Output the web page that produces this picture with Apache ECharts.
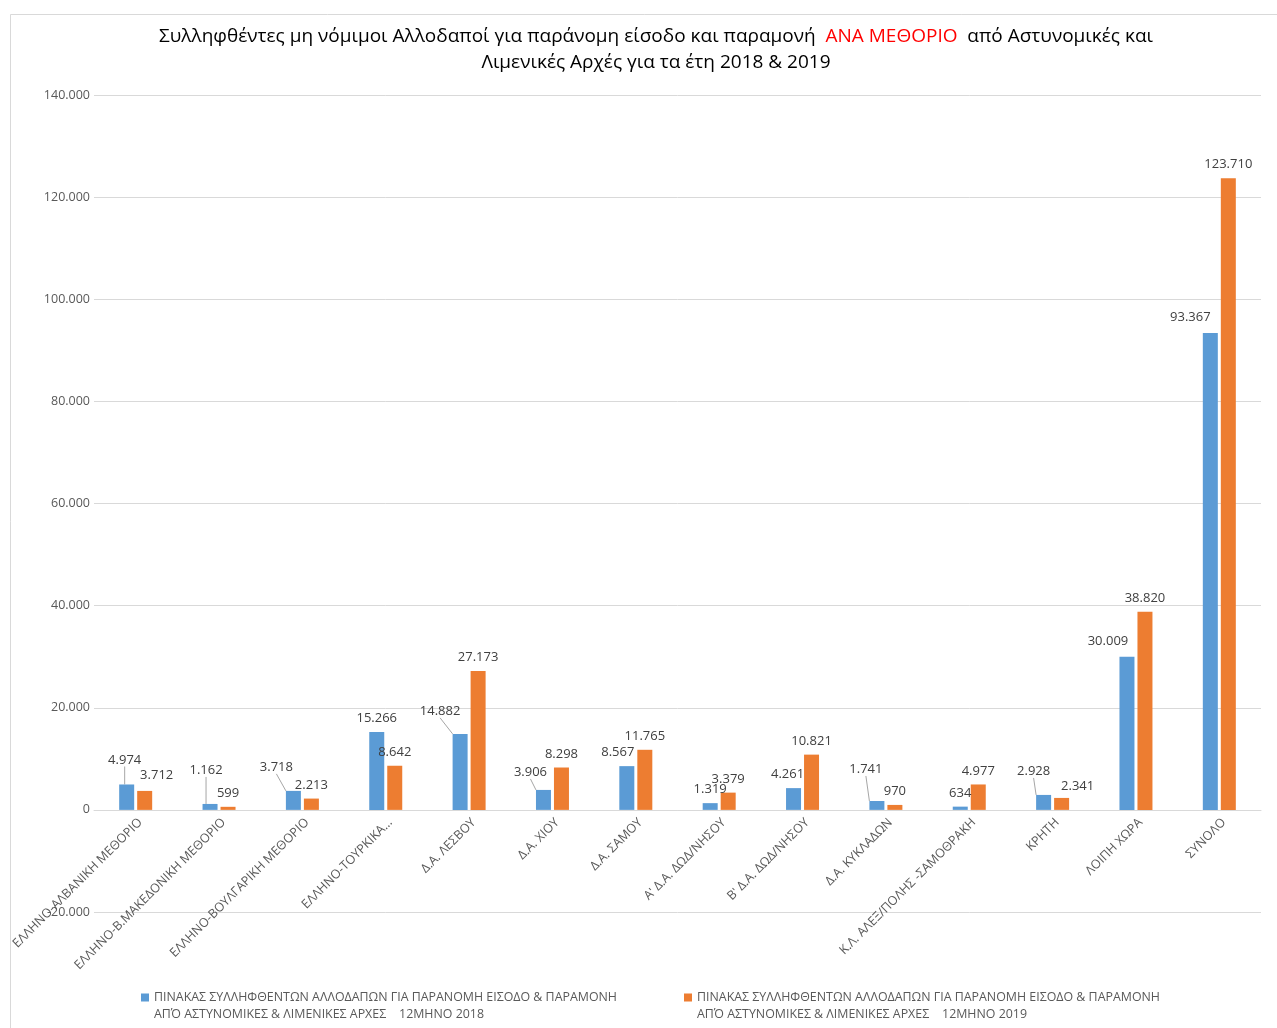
<!DOCTYPE html>
<html>
<head>
<meta charset="utf-8">
<script src="https://cdn.jsdelivr.net/npm/echarts@6/dist/echarts.min.js"></script>
<style>
  html, body { margin: 0; padding: 0; background: #fff; }
  #chart { width: 1277px; height: 1028px; }
</style>
</head>
<body>
<div id="chart"></div>
<script>
// κατηγορίες (μεθόριοι / αρχές)
var categories = [
  "ΕΛΛΗΝΟ-ΑΛΒΑΝΙΚΗ ΜΕΘΟΡΙΟ",
  "ΕΛΛΗΝΟ-Β.ΜΑΚΕΔΟΝΙΚΗ ΜΕΘΟΡΙΟ",
  "ΕΛΛΗΝΟ-ΒΟΥΛΓΑΡΙΚΗ ΜΕΘΟΡΙΟ",
  "ΕΛΛΗΝΟ-ΤΟΥΡΚΙΚΑ...",
  "Δ.Α. ΛΕΣΒΟΥ",
  "Δ.Α. ΧΙΟΥ",
  "Δ.Α. ΣΑΜΟΥ",
  "Αʹ Δ.Α. ΔΩΔ/ΝΗΣΟΥ",
  "Βʹ Δ.Α. ΔΩΔ/ΝΗΣΟΥ",
  "Δ.Α. ΚΥΚΛΑΔΩΝ",
  "Κ.Λ. ΑΛΕΞ/ΠΟΛΗΣ -ΣΑΜΟΘΡΑΚΗ",
  "ΚΡΗΤΗ",
  "ΛΟΙΠΗ ΧΩΡΑ",
  "ΣΥΝΟΛΟ"
];
var values2018 = [4974, 1162, 3718, 15266, 14882, 3906, 8567, 1319, 4261, 1741, 634, 2928, 30009, 93367];
var values2019 = [3712, 599, 2213, 8642, 27173, 8298, 11765, 3379, 10821, 970, 4977, 2341, 38820, 123710];
var name2018 = "ΠΙΝΑΚΑΣ ΣΥΛΛΗΦΘΕΝΤΩΝ ΑΛΛΟΔΑΠΩΝ ΓΙΑ ΠΑΡΑΝΟΜΗ ΕΙΣΟΔΟ & ΠΑΡΑΜΟΝΗ\nΑΠΌ ΑΣΤΥΝΟΜΙΚΕΣ & ΛΙΜΕΝΙΚΕΣ ΑΡΧΕΣ    12ΜΗΝΟ 2018";
var name2019 = "ΠΙΝΑΚΑΣ ΣΥΛΛΗΦΘΕΝΤΩΝ ΑΛΛΟΔΑΠΩΝ ΓΙΑ ΠΑΡΑΝΟΜΗ ΕΙΣΟΔΟ & ΠΑΡΑΜΟΝΗ\nΑΠΌ ΑΣΤΥΝΟΜΙΚΕΣ & ΛΙΜΕΝΙΚΕΣ ΑΡΧΕΣ    12ΜΗΝΟ 2019";
var yTicks = { min: -20000, max: 140000, interval: 20000 };

// μετατοπίσεις ετικετών (όπως τις μετακίνησε το Excel) [dx, dy]
var labelShift = [
  [[-2, -11], [-4, -20], [-17, -10], [0, 0], [-20, -9], [-13, -4], [-9, 0], [0, 0], [-6, 0], [-11, -18], [0, 0], [-10, -10], [-19, -2], [-20, -2]],
  [[12, -2], [0, 0], [0, 0], [0, 0], [0, 0], [0, 0], [0, 0], [0, 0], [0, 0], [0, 0], [0, 0], [16, 2], [0, 0], [0, 0]]
];
var withLeader = [[0, 1, 2, 4, 5, 9, 11], []];

function fmt(v) {
  var s = String(Math.abs(v)).replace(/\B(?=(\d{3})+(?!\d))/g, ".");
  return (v < 0 ? "-" : "") + s;
}

function buildData(vals, si) {
  return vals.map(function (v, i) {
    if (withLeader[si].indexOf(i) >= 0) {
      return { value: v, labelLine: { show: true } };
    }
    return v;
  });
}

var chart = echarts.init(document.getElementById("chart"));
var labelFont = "'Open Sans', sans-serif";

var legendIcon = "path://M0,0L0.01,0Z M0,4.5L8,4.5L8,12.5L0,12.5Z M0,34L0.01,34Z";

// ύψος πλέγματος: από 95 έως 912
var gridTop = 95, gridBottom = 116;
var plotH = 1028 - gridTop - gridBottom;
// τον άξονα Χ τον ανεβάζουμε στο μηδέν
var zeroOffset = -plotH * (0 - yTicks.min) / (yTicks.max - yTicks.min);

var option = {
  backgroundColor: "#fff",
  animation: false,
  textStyle: { fontFamily: labelFont },
  title: {
    left: 651,
    top: 19,
    textAlign: "center",
    text: "{a|Συλληφθέντες μη νόμιμοι Αλλοδαποί για παράνομη είσοδο και παραμονή  }{r|ΑΝΑ ΜΕΘΟΡΙΟ}{a|  από Αστυνομικές και}\n{a|Λιμενικές Αρχές για τα έτη 2018 & 2019}",
    textStyle: {
      fontWeight: "normal",
      rich: {
        a: { fontSize: 19, color: "#000", fontWeight: "normal", fontFamily: labelFont, lineHeight: 26 },
        r: { fontSize: 19, color: "#ff0000", fontWeight: "normal", fontFamily: labelFont, lineHeight: 26 }
      }
    }
  },
  graphic: [{
    type: "rect",
    left: 8,
    top: 12,
    silent: true,
    shape: { width: 1300, height: 1100 },
    style: { fill: "none", stroke: "#d9d9d9", lineWidth: 1 }
  }],
  legend: [
    {
      data: [name2018], left: 141, top: 989, padding: 0,
      icon: legendIcon, itemWidth: 8, itemHeight: 34, itemGap: 5,
      textStyle: { fontSize: 12.4, color: "#595959", lineHeight: 17, fontFamily: labelFont }
    },
    {
      data: [name2019], left: 684, top: 989, padding: 0,
      icon: legendIcon, itemWidth: 8, itemHeight: 34, itemGap: 5,
      textStyle: { fontSize: 12.4, color: "#595959", lineHeight: 17, fontFamily: labelFont }
    }
  ],
  grid: { left: 94, right: 16, top: gridTop, bottom: gridBottom, containLabel: false, outerBoundsMode: "none" },
  xAxis: {
    type: "category",
    data: categories,
    offset: zeroOffset,
    axisTick: { show: false },
    axisLine: { onZero: false, lineStyle: { color: "#d9d9d9", width: 1 } },
    axisLabel: {
      interval: 0,
      rotate: 45,
      margin: 6,
      verticalAlign: "top",
      color: "#595959",
      fontSize: 12.5,
      fontFamily: labelFont
    }
  },
  yAxis: {
    type: "value",
    min: yTicks.min,
    max: yTicks.max,
    interval: yTicks.interval,
    axisLine: { show: false },
    axisTick: { show: false },
    splitLine: { lineStyle: { color: "#d9d9d9", width: 1 } },
    axisLabel: {
      margin: 4,
      color: "#595959",
      fontSize: 12.5,
      fontFamily: labelFont,
      formatter: fmt
    }
  },
  series: [
    {
      name: name2018,
      type: "bar",
      data: buildData(values2018, 0),
      barWidth: 15,
      barGap: "20%",
      itemStyle: { color: "#5B9BD5" },
      label: {
        show: true, position: "top", distance: 7,
        color: "#404040", fontSize: 13, fontFamily: labelFont,
        formatter: function (p) { return fmt(p.value); }
      },
      labelLine: { show: false, lineStyle: { color: "#a6a6a6", width: 1 } }
    },
    {
      name: name2019,
      type: "bar",
      data: buildData(values2019, 1),
      barWidth: 15,
      barGap: "20%",
      itemStyle: { color: "#ED7D31" },
      label: {
        show: true, position: "top", distance: 7,
        color: "#404040", fontSize: 13, fontFamily: labelFont,
        formatter: function (p) { return fmt(p.value); }
      },
      labelLine: { show: false, lineStyle: { color: "#a6a6a6", width: 1 } }
    }
  ],
  labelLayout: function (params) {
    var s = labelShift[params.seriesIndex][params.dataIndex];
    return { dx: s[0], dy: s[1] };
  }
};

chart.setOption(option);
</script>
</body>
</html>
